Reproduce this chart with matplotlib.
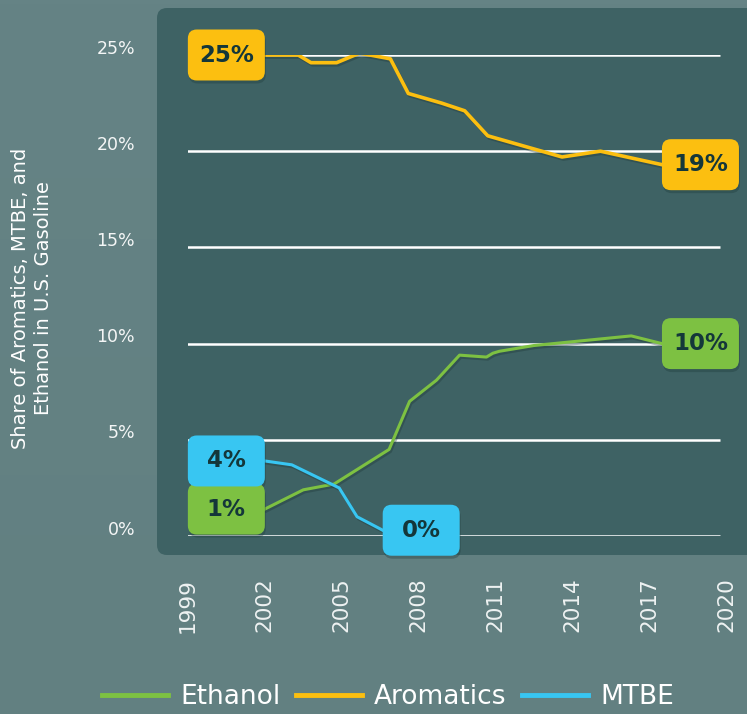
import numpy as np
import matplotlib
matplotlib.use("Agg")
import matplotlib.pyplot as plt
from matplotlib.patches import FancyBboxPatch
from matplotlib.transforms import IdentityTransform, ScaledTranslation
import matplotlib.patheffects as pe

plt.rcParams['font.family'] = ['DejaVu Sans']

# ------------------------------------------------------
# data
# ------------------------------------------------------
aro_years = [2002, 2003.3, 2003.8, 2004.8, 2005.7, 2006.9, 2007.6, 2008.9, 2009.8, 2010.7, 2013.6, 2015.1, 2017.5]
aro_vals = [25.0, 25.0, 24.6, 24.6, 25.1, 24.8, 23.0, 22.5, 22.1, 20.8, 19.7, 20.0, 19.3]

eth_years = [2002, 2003.5, 2004.7, 2006.85, 2007.65, 2008.7, 2009.6, 2010.65, 2010.9, 2011.15, 2012.5, 2016.3, 2017.5]
eth_vals = [1.4, 2.4, 2.7, 4.5, 7.0, 8.1, 9.4, 9.3, 9.5, 9.6, 9.9, 10.4, 10.0]

mtbe_years = [2002, 2003.05, 2004.9, 2005.6, 2006.6]
mtbe_vals = [3.9, 3.7, 2.5, 1.0, 0.3]

y_ticks = [0, 5, 10, 15, 20, 25]
x_ticks = [1999, 2002, 2005, 2008, 2011, 2014, 2017, 2020]

GREEN = "#7dc142"
YELLOW = "#fcbf10"
BLUE = "#38c6f2"
PANEL = "#3e6264"
TXT_DARK = "#14373a"

W, H = 747, 714
fig = plt.figure(figsize=(W / 100, H / 100), dpi=100)

# background gradient
bg = fig.add_axes([0, 0, 1, 1], zorder=-3)
grad = np.linspace(0, 1, 200).reshape(-1, 1)
bg.imshow(grad, aspect="auto", extent=[0, 1, 0, 1],
          cmap=matplotlib.colors.LinearSegmentedColormap.from_list("bg", ["#658385", "#628081"]))
bg.axis("off")

# dark rounded panel (pixel coords)
panel = FancyBboxPatch((157, H - 555), 620, 547, boxstyle="round,pad=0,rounding_size=10",
                       fc=PANEL, ec="none", transform=IdentityTransform(), zorder=-2)
fig.patches.append(panel)

ax = fig.add_axes([188 / W, 1 - 536 / H, 538 / W, (536 - 55) / H], zorder=1)
ax.set_facecolor("none")
ax.set_xlim(1999, 2020)
ax.set_ylim(0, 25)
for s in ax.spines.values():
    s.set_visible(False)

ax.hlines(y_ticks, 1998.9, 2019.75, color="white", lw=1.8, zorder=1)

shadow = [pe.SimpleLineShadow(offset=(1, -1.5), alpha=0.35, shadow_color="#1d3536"), pe.Normal()]
ax.plot(eth_years, eth_vals, color=GREEN, lw=2.2, label="Ethanol", zorder=3, path_effects=shadow)
ax.plot(aro_years, aro_vals, color=YELLOW, lw=2.6, label="Aromatics", zorder=3, path_effects=shadow)
ax.plot(mtbe_years, mtbe_vals, color=BLUE, lw=2.2, label="MTBE", zorder=3, path_effects=shadow)

ax.set_yticks(y_ticks)
ax.set_yticklabels([f"{v}%" for v in y_ticks])
ax.set_xticks(x_ticks)
ax.set_xticklabels([str(v) for v in x_ticks], rotation=90)
ax.tick_params(axis="y", length=0, pad=38, labelsize=12.5, labelcolor="#f4f6f6")
ax.tick_params(axis="x", length=0, pad=30, labelsize=15.5, labelcolor="#eef2f2")
lift = ScaledTranslation(0, 6 / 72, fig.dpi_scale_trans)
for t in ax.get_yticklabels():
    t.set_transform(t.get_transform() + lift)
for t in ax.get_xticklabels():
    t.set_va("top")

fig.text(32 / W, 1 - 298 / H, "Share of Aromatics, MTBE, and\nEthanol in U.S. Gasoline",
         rotation=90, ha="center", va="center", color="white", fontsize=14, linespacing=1.3)

# value boxes at line ends
fig.canvas.draw()


def value_box(xv, yv, text, color, side):
    px, py = ax.transData.transform((xv, yv))
    bw, bh = 77, 51
    x0 = px - bw if side == "left" else px
    y0 = py - bh / 2
    sh = FancyBboxPatch((x0 + 1, y0 - 3), bw, bh, boxstyle="round,pad=0,rounding_size=9",
                        fc="#1e3a3b", ec="none", alpha=0.35, transform=IdentityTransform(), zorder=4)
    box = FancyBboxPatch((x0, y0), bw, bh, boxstyle="round,pad=0,rounding_size=9",
                         fc=color, ec="none", transform=IdentityTransform(), zorder=5)
    fig.patches.extend([sh, box])
    fig.text((x0 + bw / 2) / W, (y0 + bh / 2) / H, text, ha="center", va="center",
             fontsize=16.5, fontweight="bold", color=TXT_DARK, zorder=6)


value_box(aro_years[0], aro_vals[0], "25%", YELLOW, "left")
value_box(aro_years[-1], aro_vals[-1], "19%", YELLOW, "right")
value_box(eth_years[0], eth_vals[0], "1%", GREEN, "left")
value_box(eth_years[-1], eth_vals[-1], "10%", GREEN, "right")
value_box(mtbe_years[0], mtbe_vals[0], "4%", BLUE, "left")
value_box(mtbe_years[-1], mtbe_vals[-1], "0%", BLUE, "right")

leg = fig.legend(loc="center", bbox_to_anchor=(388 / W, 1 - 697 / H), ncol=3, frameon=False,
                 fontsize=19, labelcolor="white", handlelength=2.5, columnspacing=0.6,
                 handletextpad=0.45)
for line in leg.get_lines():
    line.set_linewidth(3.5)
    line.set_path_effects([])

fig.savefig("out.png", dpi=100)
